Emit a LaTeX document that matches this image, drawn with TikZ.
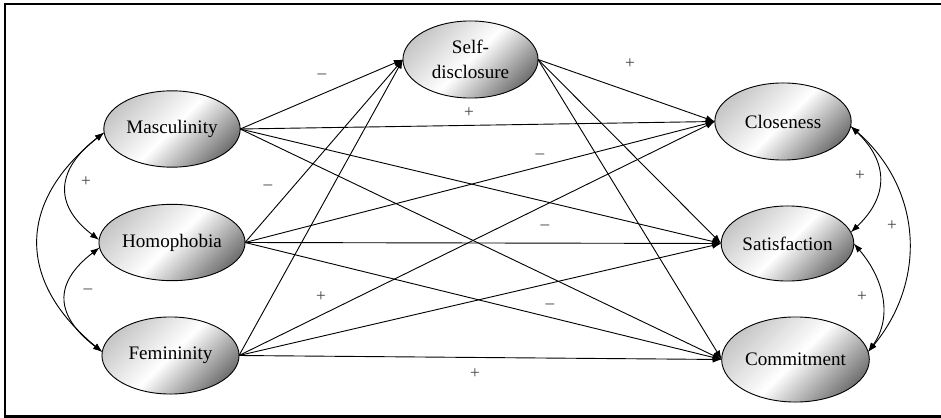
\documentclass[tikz,border=0pt]{standalone}
\usepackage{fontspec}
\setmainfont{Liberation Serif}
\usetikzlibrary{shapes.geometric,arrows.meta}

\begin{document}
\begin{tikzpicture}[x=0.55pt, y=-0.55pt,
        latent/.style={ellipse, draw=black, line width=0.5pt, inner sep=1pt, outer sep=0pt,
            minimum width=75pt, minimum height=42pt,
            top color=black!22, bottom color=black!55, middle color=white, shading angle=45,
            font=\fontsize{10.5}{13.8}\selectfont, align=center},
        effect/.style={line width=0.5pt, -{Latex[length=5pt,width=3.6pt]}},
        covar/.style={line width=0.5pt, {Latex[length=5pt,width=3.6pt]}-{Latex[length=5pt,width=3.6pt]}},
        sign/.style={font=\fontsize{9.5}{10}\selectfont, text=black!75, inner sep=0pt}]
                \useasboundingbox (0,0) rectangle (941,418);
                \draw[line width=1.6pt] (942,4) -- (5,4) -- (5,416.5) -- (942,416.5);
                \node[latent] (mas) at (172,129) {Masculinity};
                \node[latent] (hom) at (172,242.5) {Homophobia};
                \node[latent, minimum width=75.4pt, minimum height=42.4pt] (fem) at (170.5,355.5) {Femininity};
                \node[latent, minimum width=74.3pt, minimum height=42.4pt] (sd) at (470.5,59.5) {Self-\\disclosure};
                \node[latent, minimum height=42.4pt] (clo) at (783,121.5) {Closeness};
                \node[latent, minimum width=71pt, minimum height=41.3pt] (sat) at (787.5,243.5) {Satisfaction};
                \node[latent, minimum width=78.7pt, minimum height=46.8pt] (com) at (795.5,359.5) {Commitment};
                \draw[effect] (mas.east) -- (sd.west);
                \draw[effect] (mas.east) -- (clo.west);
                \draw[effect] (mas.east) -- (sat.west);
                \draw[effect] (mas.east) -- (com.west);
                \draw[effect] (hom.east) -- (sd.west);
                \draw[effect] (hom.east) -- (clo.west);
                \draw[effect] (hom.east) -- (sat.west);
                \draw[effect] (hom.east) -- (com.west);
                \draw[effect] (fem.east) -- (sd.west);
                \draw[effect] (fem.east) -- (clo.west);
                \draw[effect] (fem.east) -- (sat.west);
                \draw[effect] (fem.east) -- (com.west);
                \draw[effect] (sd.east) -- (clo.west);
                \draw[effect] (sd.east) -- (sat.west);
                \draw[effect] (sd.east) -- (com.west);
                \draw[covar] (mas.183) .. controls +(-47,36) and +(-47,-36) .. (hom.178);
                \draw[covar] (hom.184) .. controls +(-47,36) and +(-47,-36) .. (fem.177);
                \draw[covar] (mas.183) .. controls +(-88,70) and +(-85,-70) .. (fem.177);
                \draw[covar] (clo.-4) .. controls +(38,36) and +(38,-36) .. (sat.10);
                \draw[covar] (sat.east) .. controls +(30,35) and +(25,-35) .. (com.6);
                \draw[covar] (clo.-4) .. controls +(73,64) and +(58,-70) .. (com.6);
                \node[sign] (s1) at (322,76) {–};
                \node[sign] (s2) at (86,182) {+};
                \node[sign] (s3) at (268,187) {–};
                \node[sign] (s4) at (469,113) {+};
                \node[sign] (s5) at (630,64) {+};
                \node[sign] (s6) at (540,156) {–};
                \node[sign] (s7) at (860,176) {+};
                \node[sign] (s8) at (88,291) {–};
                \node[sign] (s9) at (321,297) {+};
                \node[sign] (s10) at (545,227) {–};
                \node[sign] (s11) at (892,226) {+};
                \node[sign] (s12) at (550,306) {–};
                \node[sign] (s13) at (862,297) {+};
                \node[sign] (s14) at (475,374) {+};

            \end{tikzpicture}
\end{document}
